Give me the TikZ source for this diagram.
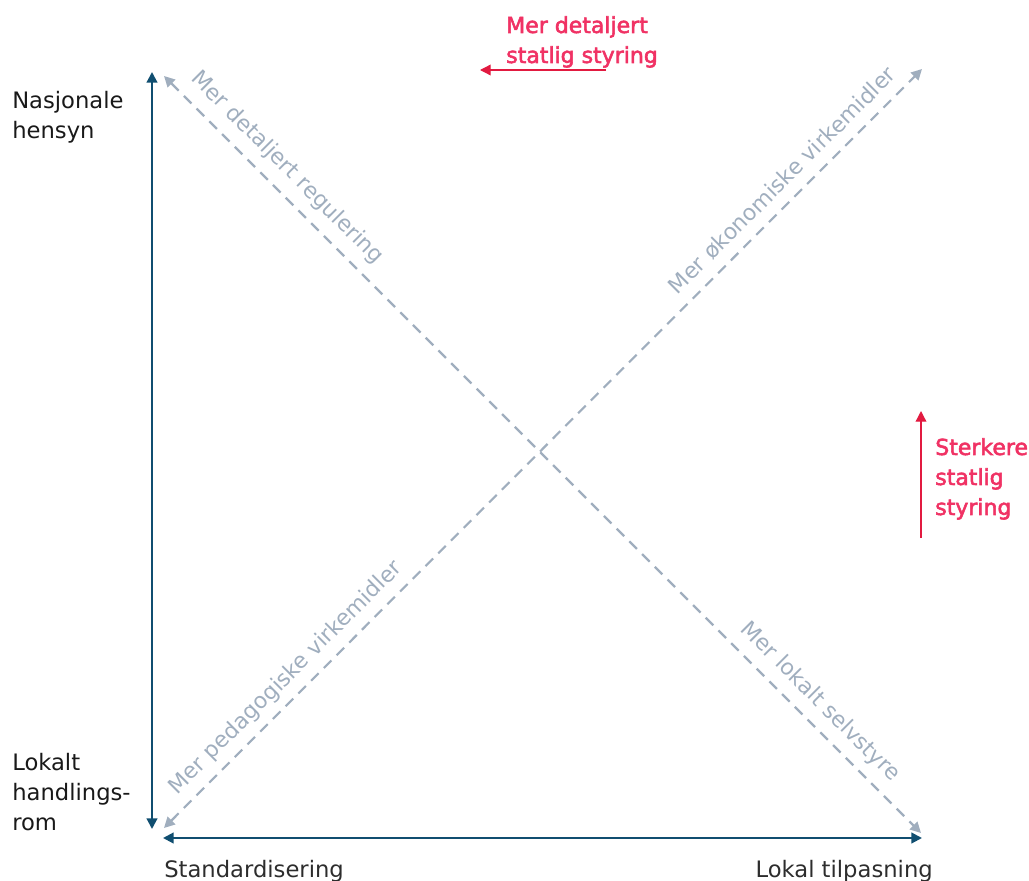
\documentclass[tikz,border=0pt]{standalone}
\usepackage{fontspec}
\setmainfont{DejaVu Sans}
\newfontfamily\semibold[FakeBold=2.5]{DejaVu Sans}
\usetikzlibrary{arrows.meta}

\definecolor{axisblue}{RGB}{16,78,112}
\definecolor{dashgrey}{RGB}{160,174,190}
\definecolor{steerred}{RGB}{226,26,64}
\definecolor{steertext}{RGB}{240,50,100}
\definecolor{labelgrey}{RGB}{45,45,45}

\tikzset{
  axis/.style={color=axisblue, line width=1.6pt, {Triangle[width=8pt,length=8pt]}-{Triangle[width=8pt,length=8pt]}},
  tendency/.style={color=dashgrey, line width=1.6pt, dash pattern=on 8pt off 5.5pt, {Triangle[width=8pt,length=8pt]}-{Triangle[width=8pt,length=8pt]}},
  steer/.style={color=steerred, line width=1pt, -{Triangle[width=8pt,length=8pt]}},
  pole/.style={anchor=north west, inner sep=0.75pt, align=left, font=\fontsize{17}{22.5}\selectfont, text=black!90},
  steerlabel/.style={anchor=north west, inner sep=0.75pt, align=left, font=\fontsize{16.5}{22.5}\selectfont\semibold, text=steertext},
  slant/.style={inner sep=0.75pt, font=\fontsize{16.5}{20}\selectfont, text=dashgrey}
}

\begin{document}
\begin{tikzpicture}[x=0.75pt,y=0.75pt,yscale=-1,xscale=1]
\useasboundingbox (0,0) rectangle (1029,881);

% corners of the field
\coordinate (top) at (152,72);
\coordinate (bottom) at (152,829);
\coordinate (left) at (163,838);
\coordinate (right) at (922,838);
\coordinate (nw) at (164,76);
\coordinate (se) at (921,833);
\coordinate (sw) at (164,828);
\coordinate (ne) at (922,69);

% axes
\draw [axis] (bottom) -- (top) ;
\draw [axis] (left) -- (right) ;

% diagonals
\draw [tendency] (nw) -- (se) ;
\draw [tendency] (sw) -- (ne) ;

% steering arrows
\coordinate (detail from) at (606,70);
\coordinate (detail to) at (480,70);
\coordinate (strong from) at (921,538);
\coordinate (strong to) at (921,411);
\draw [steer] (detail from) -- (detail to) ;
\draw [steer] (strong from) -- (strong to) ;

% Text Node
\node (national) [pole] at (11,90) {Nasjonale\\hensyn};
% Text Node
\node (local) [pole] at (11,752) {Lokalt\\handlings-\\rom};
% Text Node
\node (standard) [pole, text=labelgrey] at (163,859) {Standardisering};
% Text Node
\node (adapt) [pole, text=labelgrey, anchor=north east] at (934,859) {Lokal tilpasning};

% Text Node
\node (detailed) [steerlabel] at (505,15) {Mer detaljert\\statlig styring};
% Text Node
\node (stronger) [steerlabel] at (934,437) {Sterkere\\statlig\\styring};

% labels along the diagonals
\node (regulation) [slant, rotate=-45] at (287,168) {Mer detaljert regulering};
\node (selfrule) [slant, rotate=-45] at (820,702) {Mer lokalt selvstyre};
\node (economic) [slant, rotate=45] at (782,180) {Mer økonomiske virkemidler};
\node (pedagogic) [slant, rotate=45] at (286,678) {Mer pedagogiske virkemidler};

\end{tikzpicture}
\end{document}
